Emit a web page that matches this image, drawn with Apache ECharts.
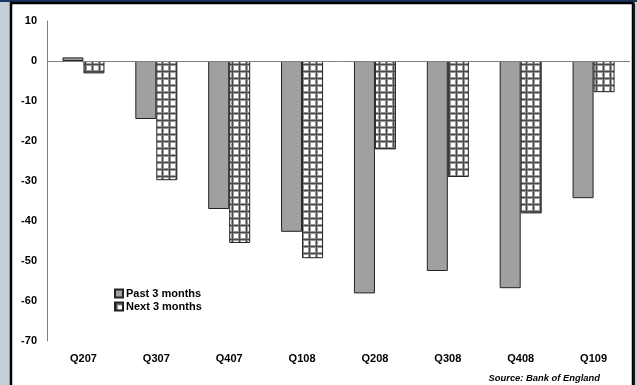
<!DOCTYPE html>
<html>
<head>
<meta charset="utf-8">
<script src="https://cdn.jsdelivr.net/npm/echarts@6/dist/echarts.min.js"></script>
<style>
  html, body { margin: 0; padding: 0; background: #c4cfd9; }
  #chart { width: 637px; height: 385px; }
</style>
</head>
<body>
<div id="chart"></div>
<script>
// Quarters and survey balances
const quarters = ['Q207', 'Q307', 'Q407', 'Q108', 'Q208', 'Q308', 'Q408', 'Q109'];
const past3Months = [0.9, -14.5, -37, -42.7, -58.1, -52.5, -56.8, -34.3];
const next3Months = [-3.1, -29.8, -45.5, -49.3, -22.1, -29, -38.1, -7.8];
const yTicks = { min: -70, max: 10, step: 10 };

// Cross-hatched fill used for the forward-looking series
function hatchPattern() {
  const c = document.createElement('canvas');
  c.width = 7; c.height = 7;
  const g = c.getContext('2d');
  g.fillStyle = '#ffffff';
  g.fillRect(0, 0, 7, 7);
  g.fillStyle = '#9a9a9a';
  g.fillRect(0, 0, 3, 7);
  g.fillRect(0, 0, 7, 3);
  g.fillStyle = '#4a4a4a';
  g.fillRect(1, 0, 1, 7);
  g.fillRect(0, 1, 7, 1);
  return c;
}

const chart = echarts.init(document.getElementById('chart'), null, { renderer: 'canvas' });
const font = 'Liberation Sans, Arial, sans-serif';

chart.setOption({
  backgroundColor: 'transparent',
  animation: false,
  graphic: [
    { type: 'rect', shape: { x: 0, y: 0, width: 637, height: 2 }, style: { fill: '#1c3560' }, z: -10 },
    { type: 'rect', shape: { x: 11, y: 3, width: 622, height: 392 },
      style: { fill: '#ffffff', stroke: '#000000', lineWidth: 2.5 }, z: -9 },
    { type: 'rect', shape: { x: 633, y: 3, width: 2, height: 392 }, style: { fill: '#1a1a1a' }, z: -8 },
    { type: 'text', right: 37, bottom: 2,
      style: { text: 'Source: Bank of England', font: 'italic bold 9.4px ' + font, fill: '#000' } }
  ],
  grid: { left: 47, right: 7, top: 21, bottom: 44 },
  legend: {
    orient: 'vertical',
    left: 109, top: 283,
    itemWidth: 8, itemHeight: 8, itemGap: 2,
    icon: 'rect',
    textStyle: { fontFamily: font, fontWeight: 'bold', fontSize: 11, color: '#000', padding: [0, 0, 0, -2] },
    data: ['Past 3 months', 'Next 3 months']
  },
  xAxis: {
    type: 'category',
    data: quarters,
    axisLine: { show: false, onZero: false },
    axisTick: { show: false },
    axisLabel: { margin: 12, fontFamily: font, fontWeight: 'bold', fontSize: 11, color: '#000' }
  },
  yAxis: {
    type: 'value',
    min: yTicks.min, max: yTicks.max, interval: yTicks.step,
    splitLine: { show: false },
    axisTick: { show: false },
    axisLine: { show: true, lineStyle: { color: '#808080', width: 1 } },
    axisLabel: { margin: 10, fontFamily: font, fontWeight: 'bold', fontSize: 11, color: '#000' }
  },
  series: [
    {
      name: 'Past 3 months',
      type: 'bar',
      data: past3Months,
      barWidth: 21,
      barGap: '0%',
      itemStyle: { color: '#a0a0a0', borderColor: '#222', borderWidth: 1 },
      markLine: {
        silent: true, symbol: 'none', label: { show: false },
        lineStyle: { color: '#808080', width: 1, type: 'solid' },
        data: [{ yAxis: 0 }]
      }
    },
    {
      name: 'Next 3 months',
      type: 'bar',
      data: next3Months,
      barWidth: 21,
      itemStyle: { color: { image: hatchPattern(), repeat: 'repeat' }, borderColor: '#222', borderWidth: 1 }
    }
  ]
});
</script>
</body>
</html>
